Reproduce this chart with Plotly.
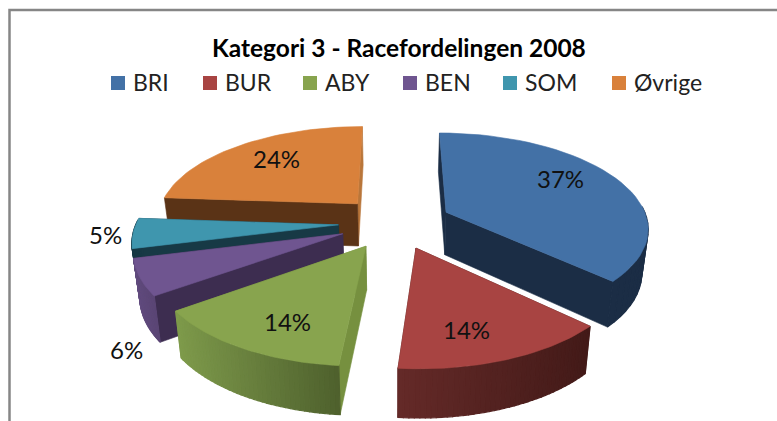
import numpy as np
import plotly.graph_objects as go

# --- data ---
categories = ["BRI", "BUR", "ABY", "BEN", "SOM", "Øvrige"]
values = [37.0, 14.4, 13.7, 6.0, 5.0, 23.9]
title_text = "Kategori 3 - Racefordelingen 2008"

# --- styles ---
top_colors = ["#4371A6", "#A84442", "#88A44E", "#6F5590", "#3F96AE", "#D9813B"]
radial_colors = ["#1B2D45", "#4A1B19", "#76903F", "#3D2D50", "#173945", "#5A3316"]
far_wall_colors = ["#1B2D45", "#4A1B19", "#76903F", "#3D2D50", "#173945", "#B9763A"]
arc_left = ["#1B2D45", "#642A28", "#7E9A4B", "#614B7E", "#173945", "#5A3316"]
arc_right = ["#1B2D45", "#431A18", "#4E602D", "#5A4574", "#173945", "#5A3316"]
legend_swatch_x = [111, 203, 303, 403, 503, 612]
label_radius = [0.74, 0.74, 0.74, 1.32, 1.13, 0.72]
label_turn = [-9, 5, -4, -25, 0, 3]
FONT = "Lato"
W, H = 777, 421
CX, CY, RX, RY, PERSP, EXPLODE, DEPTH, SHRINK = 395, 222.5, 202, 94, 0.15, 0.28, 43, 0.975
paint_order = [5, 4, 3, 2, 0, 1]


def hex_rgb(c):
    return np.array([int(c[i:i + 2], 16) for i in (1, 3, 5)])


def mix(a, b, t):
    r = hex_rgb(a) * (1 - t) + hex_rgb(b) * t
    return "rgb(%d,%d,%d)" % tuple(r.round())


def project(u, v):
    w = 1 + PERSP * v
    return CX + RX * u / w, CY - RY * v / w


def extrude(u, v):
    x, y = project(u, v)
    return CX + (x - CX) * SHRINK, y + DEPTH / (1 + 0.1 * v)


fractions = np.array(values) / sum(values)
edges = np.concatenate([[0], np.cumsum(fractions)]) * 2 * np.pi
fig = go.Figure()


def poly(xs, ys, color, lw=0.6):
    fig.add_trace(go.Scatter(x=list(xs), y=list(ys), mode="lines", fill="toself",
                             fillcolor=color,
                             line=dict(color=color, width=lw),
                             hoverinfo="skip", showlegend=False))


for i in paint_order:
    a0, a1 = edges[i], edges[i + 1]
    mid = (a0 + a1) / 2
    ou, ov = EXPLODE * np.sin(mid), EXPLODE * np.cos(mid)
    th = np.linspace(a0, a1, 41)
    us, vs = ou + np.sin(th), ov + np.cos(th)
    # radial walls, farther one first
    walls = sorted([a0, a1], key=lambda a: -np.cos(a))
    for n, a in enumerate(walls):
        eu, ev = ou + np.sin(a), ov + np.cos(a)
        x0, y0 = project(ou, ov)
        x1, y1 = project(eu, ev)
        x2, y2 = extrude(eu, ev)
        x3, y3 = extrude(ou, ov)
        colour = far_wall_colors[i] if n == 0 else radial_colors[i]
        poly([x0, x1, x2, x3, x0], [y0, y1, y2, y3, y0], colour)
    # curved outer wall, only where it faces the viewer
    xt, yt = project(us, vs)
    for k in range(len(th) - 1):
        tm = (th[k] + th[k + 1]) / 2
        if np.cos(tm) < 0.05:
            x0, y0 = project(us[k], vs[k])
            x1, y1 = project(us[k + 1], vs[k + 1])
            x2, y2 = extrude(us[k + 1], vs[k + 1])
            x3, y3 = extrude(us[k], vs[k])
            t = np.clip((0.5 * (x0 + x1) - xt.min()) / (np.ptp(xt) + 1e-6), 0, 1)
            c = mix(arc_left[i], arc_right[i], t)
            poly([x0, x1, x2, x3, x0], [y0, y1, y2, y3, y0], c, lw=1.2)
    # top face
    xa, ya = project(ou, ov)
    poly(np.r_[xa, xt, xa], np.r_[ya, yt, ya], top_colors[i])

annotations = []
for i, v in enumerate(values):
    mid = (edges[i] + edges[i + 1]) / 2
    ou, ov = EXPLODE * np.sin(mid), EXPLODE * np.cos(mid)
    a = mid + np.radians(label_turn[i])
    lx, ly = project(ou + label_radius[i] * np.sin(a), ov + label_radius[i] * np.cos(a))
    annotations.append(dict(x=lx, y=ly, text=f"{round(v)}%", showarrow=False, xref="x", yref="y",
                            font=dict(family=FONT, size=24, color="#111111")))

annotations.append(dict(x=398.5, y=47, text=f"<b>{title_text}</b>", showarrow=False,
                        xref="x", yref="y",
                        font=dict(family=FONT, size=24.5, color="#000000")))
for i, name in enumerate(categories):
    annotations.append(dict(x=legend_swatch_x[i] + 20, y=81.5, text=name, showarrow=False,
                            xref="x", yref="y", xanchor="left",
                            font=dict(family=FONT, size=23, color="#222222")))
fig.add_trace(go.Scatter(x=[x + 7 for x in legend_swatch_x], y=[83] * 6, mode="markers",
                         marker=dict(symbol="square", size=14, color=top_colors),
                         hoverinfo="skip", showlegend=False))

fig.update_layout(
    width=W, height=H, margin=dict(l=0, r=0, t=0, b=0), autosize=False,
    paper_bgcolor="white", plot_bgcolor="white", showlegend=False,
    xaxis=dict(range=[0, W], visible=False, fixedrange=True),
    yaxis=dict(range=[H, 0], visible=False, fixedrange=True),
    annotations=annotations,
    shapes=[dict(type="rect", xref="x", yref="y", x0=9.5, y0=10, x1=W + 20, y1=H + 20,
                 line=dict(color="#868686", width=2.5), fillcolor="rgba(0,0,0,0)", layer="below")],
)
fig.write_html("out.html", config={"displayModeBar": False},
               post_script="document.body.style.margin='0';document.body.style.overflow='hidden';")
